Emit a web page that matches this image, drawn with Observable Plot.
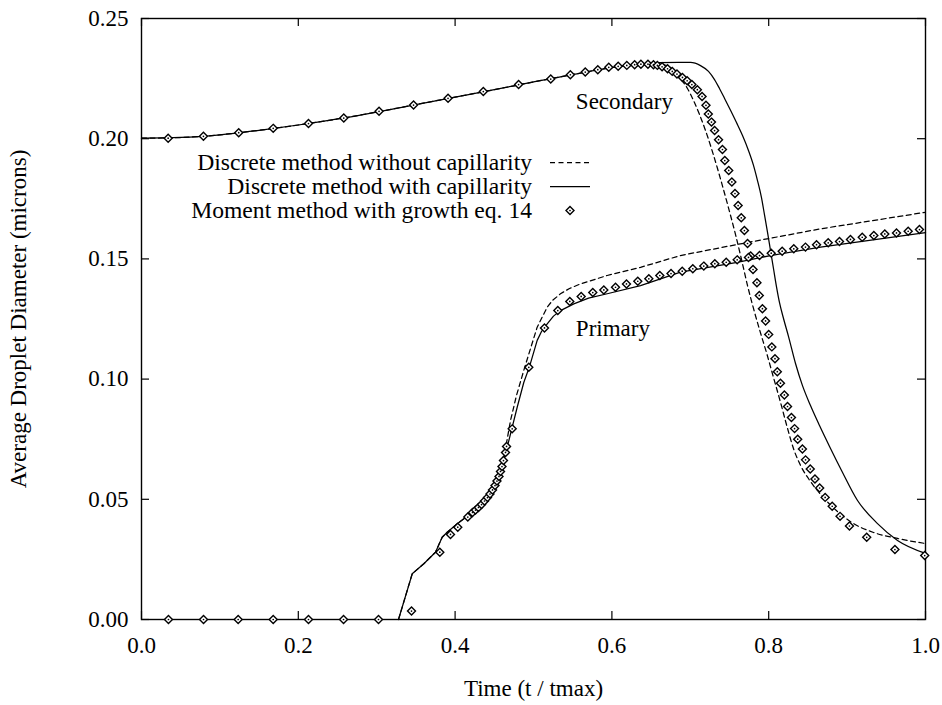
<!DOCTYPE html>
<html><head><meta charset="utf-8">
<script src="https://cdn.jsdelivr.net/npm/d3@7"></script>
<script src="https://cdn.jsdelivr.net/npm/@observablehq/plot@0.6"></script>
<style>
html,body{margin:0;padding:0;background:#fff;}
#chart{position:relative;width:942px;height:705px;}
</style></head><body><div id="chart"></div>
<script>
const xTicks = [0, 0.2, 0.4, 0.6, 0.8, 1.0];
const yTicks = [0, 0.05, 0.10, 0.15, 0.20, 0.25];
const xLabel = "Time (t / tmax)";
const yLabel = "Average Droplet Diameter (microns)";
const legendLabels = ["Discrete method without capillarity", "Discrete method with capillarity", "Moment method with growth eq. 14"];
const annotations = [{t: 0.554, d: 0.2156, text: "Secondary"}, {t: 0.554, d: 0.1208, text: "Primary"}];

// Secondary droplets — discrete method with capillarity (solid)
const secWith = [[0,0.2002],[0.05,0.2005],[0.1,0.2016],[0.15,0.2035],[0.2,0.2057],[0.25,0.2082],[0.3,0.2111],[0.35,0.2142],[0.4,0.2173],[0.45,0.2204],[0.5,0.2236],[0.55,0.2267],[0.6,0.2296],[0.63,0.2308],[0.66,0.2316],[0.685,0.2317],[0.7003,0.2317],[0.713,0.2304],[0.7232,0.228],[0.7309,0.2246],[0.7372,0.2209],[0.7436,0.2168],[0.7513,0.2118],[0.7589,0.2067],[0.7666,0.2013],[0.7742,0.1951],[0.7806,0.1889],[0.7857,0.1826],[0.7908,0.1755],[0.7946,0.1684],[0.7985,0.161],[0.8023,0.1535],[0.8061,0.146],[0.8099,0.1385],[0.8138,0.1318],[0.8189,0.1252],[0.8253,0.1177],[0.8342,0.1065],[0.8431,0.0973],[0.8533,0.089],[0.8648,0.0807],[0.8776,0.072],[0.8929,0.062],[0.9133,0.0495],[0.9388,0.0399],[0.9643,0.0329],[1.0,0.0275]];
// Secondary droplets — discrete method without capillarity (dashed)
const secWithout = [[0,0.2002],[0.05,0.2005],[0.1,0.2016],[0.15,0.2035],[0.2,0.2057],[0.25,0.2082],[0.3,0.2111],[0.35,0.2142],[0.4,0.2173],[0.45,0.2204],[0.5,0.2236],[0.55,0.2267],[0.6,0.2296],[0.63,0.2308],[0.6492,0.2315],[0.662,0.2311],[0.6747,0.2296],[0.6875,0.225],[0.6964,0.2209],[0.7041,0.2159],[0.7117,0.2101],[0.7194,0.2034],[0.727,0.1959],[0.7347,0.1876],[0.7423,0.1789],[0.75,0.1697],[0.7577,0.1601],[0.7653,0.1498],[0.773,0.1389],[0.7806,0.1294],[0.7883,0.1206],[0.7972,0.111],[0.8061,0.1007],[0.8151,0.0903],[0.824,0.0795],[0.8316,0.0711],[0.8406,0.0641],[0.8533,0.0574],[0.8699,0.0507],[0.8878,0.0449],[0.9082,0.0399],[0.9337,0.0362],[0.9643,0.0337],[1.0,0.0316]];
// Secondary droplets — moment method (diamonds)
const secMoment = [[0.034,0.2002],[0.079,0.201],[0.124,0.2025],[0.168,0.2043],[0.213,0.2063],[0.258,0.2086],[0.303,0.2114],[0.347,0.214],[0.391,0.2168],[0.436,0.2196],[0.481,0.2225],[0.522,0.2248],[0.547,0.2266],[0.566,0.2277],[0.582,0.2287],[0.596,0.2297],[0.608,0.2301],[0.619,0.2305],[0.629,0.2308],[0.637,0.231],[0.646,0.231],[0.653,0.2308],[0.658,0.2305],[0.664,0.2299],[0.671,0.2291],[0.677,0.228],[0.683,0.2269],[0.69,0.2255],[0.696,0.2241],[0.702,0.2225],[0.709,0.2204],[0.715,0.2176],[0.72,0.2139],[0.723,0.2103],[0.727,0.2069],[0.731,0.2034],[0.736,0.1996],[0.741,0.1955],[0.744,0.1909],[0.749,0.1868],[0.753,0.182],[0.757,0.1772],[0.761,0.1722],[0.765,0.1671],[0.769,0.1618],[0.773,0.1564],[0.777,0.1512],[0.78,0.1456],[0.785,0.1401],[0.788,0.1348],[0.792,0.1293],[0.796,0.1242],[0.8,0.1186],[0.804,0.1134],[0.808,0.1085],[0.811,0.1031],[0.815,0.0983],[0.82,0.0934],[0.824,0.0886],[0.829,0.084],[0.833,0.0794],[0.837,0.075],[0.843,0.0709],[0.847,0.0664],[0.853,0.0626],[0.859,0.0584],[0.865,0.0547],[0.872,0.0508],[0.881,0.0471],[0.891,0.0429],[0.903,0.0389],[0.925,0.0342],[0.961,0.0291],[0.999,0.0266]];

// Primary droplets — discrete method with capillarity (solid)
const priWith = [[0.3278,0],[0.3453,0.019],[0.3601,0.0232],[0.375,0.028],[0.3835,0.0342],[0.3899,0.0363],[0.4027,0.0398],[0.4196,0.044],[0.4366,0.0495],[0.4494,0.055],[0.4579,0.062],[0.4643,0.0689],[0.4707,0.0772],[0.4792,0.0883],[0.4876,0.0986],[0.4949,0.1052],[0.5047,0.1161],[0.5102,0.1198],[0.5175,0.123],[0.5255,0.1262],[0.5344,0.1285],[0.5514,0.1313],[0.5702,0.1337],[0.594,0.1355],[0.6365,0.1389],[0.6875,0.1445],[0.7598,0.1486],[0.8023,0.1514],[0.8661,0.1549],[1.0,0.1609]];
// Primary droplets — discrete method without capillarity (dashed)
const priWithout = [[0.3278,0],[0.3453,0.019],[0.3601,0.0232],[0.375,0.028],[0.3835,0.0342],[0.3899,0.0363],[0.4027,0.0398],[0.4196,0.044],[0.4366,0.0495],[0.449,0.0553],[0.4579,0.0628],[0.4643,0.0711],[0.4707,0.0828],[0.4783,0.0932],[0.4876,0.1036],[0.4962,0.1127],[0.5047,0.1216],[0.5102,0.1252],[0.5175,0.1299],[0.5242,0.1327],[0.5344,0.1355],[0.5459,0.1377],[0.5599,0.1396],[0.594,0.1431],[0.6365,0.1465],[0.6875,0.1514],[0.7598,0.156],[0.8661,0.1625],[1.0,0.1694]];
// Primary droplets — moment method (diamonds)
const priMoment = [[0.0344,0],[0.0791,0],[0.1233,0],[0.168,0],[0.213,0],[0.2577,0],[0.3023,0],[0.3444,0.0035],[0.3805,0.028],[0.3941,0.0354],[0.4034,0.0384],[0.4162,0.0426],[0.4222,0.0445],[0.426,0.0455],[0.4298,0.0466],[0.4337,0.0478],[0.4375,0.0493],[0.4413,0.0507],[0.4445,0.0522],[0.4477,0.0539],[0.4509,0.0557],[0.4534,0.0576],[0.456,0.0595],[0.4579,0.0616],[0.4598,0.0636],[0.4617,0.0661],[0.4643,0.0695],[0.4656,0.072],[0.4728,0.0793],[0.494,0.1049],[0.514,0.1213],[0.531,0.1285],[0.5463,0.1323],[0.5608,0.1344],[0.5756,0.136],[0.5897,0.1371],[0.6046,0.1382],[0.6186,0.1396],[0.633,0.1407],[0.6471,0.1417],[0.6611,0.1431],[0.6754,0.1439],[0.6897,0.1449],[0.7032,0.1459],[0.7172,0.147],[0.7313,0.148],[0.7458,0.1486],[0.7598,0.1496],[0.7742,0.1506],[0.7883,0.1514],[0.8032,0.1524],[0.8172,0.1532],[0.832,0.1542],[0.8469,0.1549],[0.861,0.1559],[0.8759,0.1567],[0.8903,0.1572],[0.9043,0.1581],[0.9193,0.159],[0.9341,0.1597],[0.9481,0.1604],[0.963,0.1608],[0.9779,0.1615],[0.9923,0.1622]];

const FONT = "'Liberation Serif', 'Times New Roman', serif";
const W = 942, H = 705, ML = 141, MR = 17, MT = 18, MB = 86;
const frameW = W - ML - MR, frameH = H - MT - MB, TICK = 8;

const solidS = {stroke: "black", strokeWidth: 1.25, curve: "monotone-x"};
const dashedS = {stroke: "black", strokeWidth: 1.25, strokeDasharray: "5,3.5", curve: "monotone-x"};
const solidP = {stroke: "black", strokeWidth: 1.25, curve: "linear"};
const dashedP = {stroke: "black", strokeWidth: 1.25, strokeDasharray: "5,3.5", curve: "linear"};
const diamond = {symbol: "diamond2", r: 3.6, stroke: "black", fill: "white", strokeWidth: 1.4};
const center = {r: 0.85, fill: "black", stroke: "none"};

const chart = Plot.plot({
  width: W, height: H,
  marginLeft: ML, marginRight: MR, marginTop: MT, marginBottom: MB,
  style: {fontFamily: FONT, fontSize: "23px", color: "black", background: "white"},
  x: {domain: [0, 1]},
  y: {domain: [0, 0.25]},
  marks: [
    Plot.frame({stroke: "black", strokeWidth: 1.4}),
    Plot.tickX(xTicks, {x: d => d, insetTop: frameH - TICK, stroke: "black", strokeWidth: 1.2}),
    Plot.tickX(xTicks, {x: d => d, insetBottom: frameH - TICK, stroke: "black", strokeWidth: 1.2}),
    Plot.tickY(yTicks, {y: d => d, insetRight: frameW - TICK, stroke: "black", strokeWidth: 1.2}),
    Plot.tickY(yTicks, {y: d => d, insetLeft: frameW - TICK, stroke: "black", strokeWidth: 1.2}),
    Plot.axisX({ticks: xTicks, tickSize: 0, tickPadding: 17, tickFormat: d3.format(".1f"),
      label: xLabel, labelAnchor: "center", labelArrow: "none", labelOffset: 76, fontSize: 23}),
    Plot.axisY({ticks: yTicks, tickSize: 0, tickPadding: 13, tickFormat: d3.format(".2f"),
      label: yLabel, labelAnchor: "center", labelArrow: "none", labelOffset: 132, fontSize: 23}),
    Plot.line(secWithout, {x: d => d[0], y: d => d[1], ...dashedS}),
    Plot.line(priWithout, {x: d => d[0], y: d => d[1], ...dashedP}),
    Plot.line(secWith, {x: d => d[0], y: d => d[1], ...solidS}),
    Plot.line(priWith, {x: d => d[0], y: d => d[1], ...solidP}),
    Plot.dot(secMoment, {x: d => d[0], y: d => d[1], ...diamond}),
    Plot.dot(priMoment, {x: d => d[0], y: d => d[1], ...diamond}),
    Plot.dot(secMoment, {x: d => d[0], y: d => d[1], ...center}),
    Plot.dot(priMoment, {x: d => d[0], y: d => d[1], ...center}),
    Plot.text(annotations, {x: "t", y: "d", text: "text", textAnchor: "start", fontSize: 23, fill: "black"})
  ]
});
document.getElementById("chart").appendChild(chart);

// Legend (inside the plot area, upper left)
const svg = d3.select(chart);
const lg = svg.append("g").attr("font-family", FONT).attr("font-size", 23.6).attr("fill", "black");
const legX = 532, legY0 = 170, legDY = 24, sx0 = 550, sx1 = 590;
legendLabels.forEach((lab, i) => {
  const by = legY0 + i * legDY;
  lg.append("text").attr("x", legX).attr("y", by).attr("text-anchor", "end").text(lab);
  const my = by - 7.5;
  if (i === 0) lg.append("line").attr("x1", sx0).attr("x2", sx1).attr("y1", my).attr("y2", my).attr("stroke", "black").attr("stroke-width", 1.25).attr("stroke-dasharray", "5,3.5");
  if (i === 1) lg.append("line").attr("x1", sx0).attr("x2", sx1).attr("y1", my).attr("y2", my).attr("stroke", "black").attr("stroke-width", 1.25);
  if (i === 2) {
    const s = 4, cx = (sx0 + sx1) / 2;
    lg.append("path").attr("d", `M${cx},${my-s}L${cx+s},${my}L${cx},${my+s}L${cx-s},${my}Z`).attr("fill", "white").attr("stroke", "black").attr("stroke-width", 1.4);
    lg.append("circle").attr("cx", cx).attr("cy", my).attr("r", 0.85).attr("fill", "black");
  }
});
</script></body></html>
